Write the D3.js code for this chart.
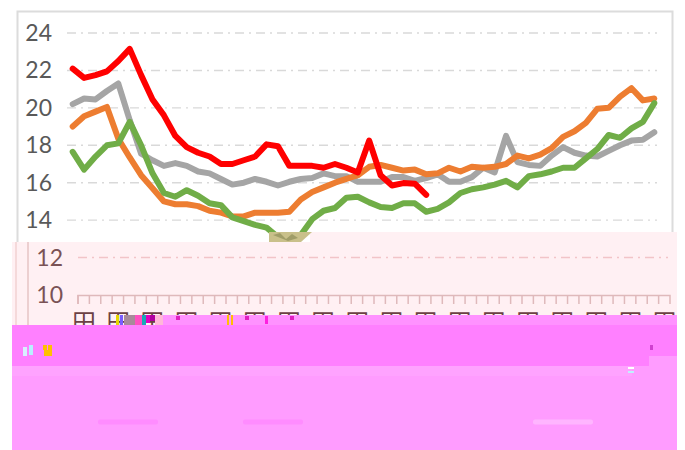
<!DOCTYPE html>
<html><head><meta charset="utf-8">
<style>html,body{margin:0;padding:0;background:#fff}svg{display:block}text{font-family:Lato,"Noto Sans",sans-serif}</style>
<script src="https://cdn.jsdelivr.net/npm/d3@7/dist/d3.min.js"></script>
</head><body><svg id="c" width="685" height="450"></svg>
<script>
const indexes=d3.range(52);
const red=[22.1,21.6,21.75,21.95,22.5,23.15,21.75,20.45,19.6,18.5,17.9,17.6,17.4,17.0,17.0,17.2,17.4,18.05,17.95,16.9,16.9,16.9,16.8,17.0,16.8,16.55,18.25,16.4,15.85,15.98,15.95,15.35];
const gray=[20.2,20.5,20.45,20.9,21.3,19.35,17.55,17.2,16.9,17.05,16.9,16.6,16.5,16.2,15.9,16.0,16.2,16.05,15.85,16.05,16.2,16.25,16.5,16.35,16.35,16.05,16.05,16.05,16.3,16.3,16.1,16.25,16.45,16.05,16.05,16.3,16.8,16.55,18.5,17.1,16.95,16.9,17.45,17.9,17.6,17.45,17.4,17.7,18.0,18.25,18.3,18.7];
const orange=[19.0,19.55,19.8,20.05,18.35,17.35,16.4,15.7,15.0,14.85,14.85,14.75,14.5,14.4,14.2,14.2,14.4,14.4,14.4,14.45,15.1,15.5,15.75,16.0,16.2,16.4,16.85,16.95,16.8,16.65,16.7,16.45,16.5,16.8,16.6,16.85,16.8,16.85,17.0,17.45,17.3,17.5,17.85,18.45,18.75,19.2,19.95,20.0,20.6,21.05,20.4,20.5];
const green=[17.65,16.7,17.4,18.0,18.1,19.25,18.0,16.5,15.45,15.25,15.6,15.3,14.9,14.8,14.15,13.95,13.75,13.6,13.1,12.65,13.2,14.05,14.5,14.65,15.2,15.25,14.95,14.7,14.65,14.9,14.9,14.45,14.6,14.95,15.45,15.65,15.75,15.9,16.1,15.75,16.35,16.45,16.6,16.8,16.8,17.3,17.8,18.55,18.4,18.9,19.25,20.25];
const seriesList=[[gray,"#a5a5a5"],[orange,"#ed7d31"],[red,"#ff0000"],[green,"#70ad47"]];
const upperTicks=[24,22,20,18,16,14], lowerTicks=[12];

const svg=d3.select("#c");
const x=d3.scaleBand().domain(indexes).range([67,660]);
const y=d3.scaleLinear().domain([10,24]).range([295,33]);
const xc=i=>x(i)+x.bandwidth()/2;
const shift=11;

svg.append("path").attr("d","M17.5,242V11.5H672.5V242").attr("fill","none").attr("stroke","#dcdcdc").attr("stroke-width",2);

function grid(g,ticks,col,labelCol){
  g.selectAll("line.g").data(ticks).join("line").attr("class","g")
    .attr("x1",67).attr("x2",657).attr("y1",d=>y(d)).attr("y2",d=>y(d))
    .attr("stroke",col).attr("stroke-width",1.4).attr("stroke-dasharray","9 5 2 5");
  g.selectAll("text").data(ticks).join("text").attr("x",52).attr("y",d=>y(d)).attr("dy","0.35em")
    .attr("text-anchor","end").attr("font-size",23).attr("fill",labelCol).text(d=>d);
}
grid(svg.append("g"),upperTicks,"#d9d9d9","#595959");

const line=d3.line().x((d,i)=>xc(i)).y(d=>y(d));
svg.append("g").selectAll("path").data(seriesList).join("path")
  .attr("d",d=>line(d[0])).attr("fill","none").attr("stroke",d=>d[1])
  .attr("stroke-width",6).attr("stroke-linejoin","round").attr("stroke-linecap","round");

// pale lower band
svg.append("rect").attr("x",12).attr("y",242).attr("width",665).attr("height",90).attr("fill","#fff0f3");
svg.append("rect").attr("x",310).attr("y",232).attr("width",367).attr("height",10).attr("fill","#fff0f3");
svg.append("path").attr("d","M269,232H312L301,242H269Z").attr("fill","#c9c08a");
svg.append("path").attr("d","M273,235L280,233L286,239L292,234L298,238L288,241Z").attr("fill","#8f8f5a").attr("opacity",.7);
const low=svg.append("g").attr("transform",`translate(${shift},0)`);
low.append("line").attr("x1",17).attr("x2",17).attr("y1",242).attr("y2",330).attr("stroke","#eccfd0").attr("stroke-width",2);
svg.append("line").attr("x1",16).attr("x2",16).attr("y1",242).attr("y2",330).attr("stroke","#f5d9da").attr("stroke-width",2);
grid(low,lowerTicks,"#f2c4c8","#7a5255");
low.append("text").attr("x",52).attr("y",y(10)).attr("dy","0.35em").attr("text-anchor","end").attr("font-size",23).attr("fill","#7a5255").text(10);

// x axis
const ax=d3.scaleBand().domain(indexes).range([78,670]);
const axis=d3.axisBottom(ax).tickValues(indexes).tickFormat("").tickSize(9);
const axG=svg.append("g").attr("transform","translate(0,295)").call(axis);
axG.selectAll("line,path").attr("stroke","#dfb9bb").attr("stroke-width",1.5);
axG.selectAll(".tick").attr("transform",d=>`translate(${ax(d)},0)`);
axG.select("path").attr("d","M78,9V0.5H670V9");
const xLabels=indexes.filter(i=>i%3===0);
svg.append("g").selectAll("text").data(xLabels).join("text").attr("x",d=>ax(d)+6).attr("y",331)
  .attr("text-anchor","middle").attr("font-size",24).attr("fill","#6b4143")
  .style("font-family","'Noto Sans CJK JP'").text("田");

// saturated lower bands
svg.append("rect").attr("x",12).attr("y",325).attr("width",665).attr("height",41).attr("fill","#ff80ff");
svg.append("rect").attr("x",163).attr("y",315).attr("width",514).attr("height",10).attr("fill","#ff92ff");
svg.append("rect").attr("x",12).attr("y",366).attr("width",665).attr("height",84).attr("fill","#ff9cff");
svg.append("rect").attr("x",12).attr("y",366).attr("width",620).attr("height",10).attr("fill","#ffa3ff");
svg.append("rect").attr("x",649).attr("y",356).attr("width",28).attr("height",10).attr("fill","#ff9cff");
const legendStrips=[[98,158,"#ff8cff"],[243,303,"#ff8cff"],[533,593,"#ffb5ff"]];
svg.append("g").selectAll("rect").data(legendStrips).join("rect")
  .attr("x",d=>d[0]).attr("y",419.5).attr("width",d=>d[1]-d[0]).attr("height",5).attr("rx",2).attr("fill",d=>d[2]);

// image glitches
const glitches=[[116,315,3,10,"#e6d800"],[120,315,3,10,"#7a5cff"],[124,315,11,10,"#a88a9a"],[135,315,7,10,"#ff4fc0"],[142,315,4,10,"#18a8b8"],[146,315,4,8,"#e000c0"],[150,315,5,6,"#b000a0"],
 [155,315,8,10,"#ffb8d8"],[227,315,2,10,"#ffc000"],[231,315,2,10,"#ffc000"],[176,316,4,4,"#e020c0"],[245,316,4,4,"#e020c0"],[265,316,3,8,"#ff20e0"],[290,316,4,4,"#e020c0"],
 [43,345,4,5,"#ffc000"],[48,345,4,11,"#ffc000"],[44,350,6,6,"#ffc000"],[23,347,4,9,"#d8f0ff"],[29,345,4,10,"#b8f0ff"],[650,345,3,5,"#d040d0"],[628,367,6,2,"#fff"],[628,371,6,2,"#c0f0ff"]];
svg.append("g").selectAll("rect").data(glitches).join("rect")
  .attr("x",d=>d[0]).attr("y",d=>d[1]).attr("width",d=>d[2]).attr("height",d=>d[3]).attr("fill",d=>d[4]);
</script></body></html>
